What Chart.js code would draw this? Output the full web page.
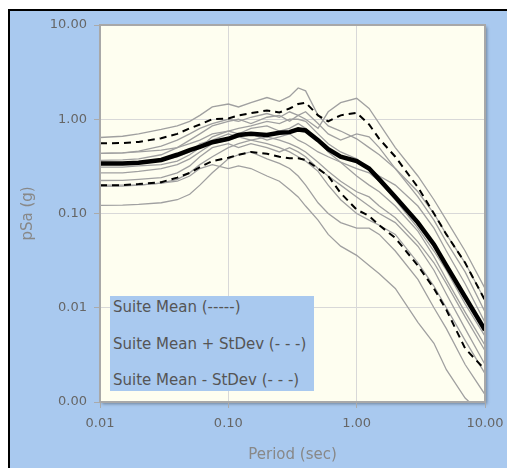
<!DOCTYPE html>
<html lang="en">
<head>
  <meta charset="UTF-8">
  <title>Suite Spectra</title>
  <script src="https://cdn.jsdelivr.net/npm/chart.js"></script>
  <style>
    body {
      margin: 0;
      background: #fff;
      font-family: "DejaVu Sans", Verdana, sans-serif;
    }
    .frame {
      position: absolute;
      left: 8px;
      top: 9px;
      width: 497px;
      height: 457px;
      border-left: 2px solid #000;
      border-top: 2px solid #000;
      background: #a9c9ef;
    }
    .chart-box {
      position: absolute;
      left: 0;
      top: 0;
      width: 497px;
      height: 457px;
    }
    .legend {
      position: absolute;
      left: 100px;   /* page x 110 */
      top: 285px;    /* page y 296 */
      width: 204px;
      height: 95px;
      background: #a9c9ef;
      color: #555;
      font-size: 15px;
    }
    .legend div {
      position: absolute;
      left: 3px;
      line-height: 18px;
      white-space: nowrap;
    }
  </style>
</head>
<body>
  <div class="frame">
    <div class="chart-box"><canvas id="spectraChart"></canvas></div>
    <div class="legend">
      <div style="top:2px">Suite Mean (-----)</div>
      <div style="top:39px">Suite Mean + StDev (- - -)</div>
      <div style="top:75px">Suite Mean - StDev (- - -)</div>
    </div>
  </div>

  <script>
    // periods (sec) shared by every curve
    const periods = [0.01, 0.015, 0.02, 0.03, 0.04, 0.05, 0.06, 0.075, 0.1, 0.12, 0.15, 0.2, 0.25, 0.3,
                     0.35, 0.4, 0.5, 0.6, 0.75, 1.0, 1.25, 1.5, 2, 3, 4, 5, 7, 10];

    const xTicks = [0.01, 0.1, 1, 10];
    const yTicks = [0.001, 0.01, 0.1, 1, 10];

    // suite statistics (g)
    const suiteMean = [0.34, 0.34, 0.345, 0.37, 0.42, 0.47, 0.51, 0.57, 0.62, 0.68, 0.70, 0.68, 0.72, 0.73,
                       0.78, 0.76, 0.60, 0.48, 0.40, 0.36, 0.30, 0.23, 0.15, 0.08, 0.047, 0.028, 0.013, 0.0058];
    const meanPlusSd = [0.555, 0.56, 0.575, 0.63, 0.70, 0.80, 0.88, 1.0, 1.02, 1.10, 1.16, 1.24, 1.18, 1.30,
                        1.45, 1.50, 1.10, 0.95, 1.10, 1.17, 0.88, 0.62, 0.40, 0.19, 0.10, 0.06, 0.03, 0.012];
    const meanMinusSd = [0.20, 0.20, 0.205, 0.215, 0.24, 0.27, 0.31, 0.36, 0.39, 0.42, 0.45, 0.43, 0.40, 0.385,
                         0.385, 0.37, 0.30, 0.25, 0.165, 0.11, 0.094, 0.075, 0.055, 0.028, 0.016, 0.0095, 0.0037, 0.0022];

    // individual records (g)
    const rec01 = [0.64, 0.66, 0.70, 0.78, 0.85, 0.95, 1.10, 1.35, 1.45, 1.35, 1.50, 1.70, 1.55, 1.75,
                   2.15, 2.00, 1.10, 0.85, 0.75, 0.62, 0.50, 0.42, 0.30, 0.15, 0.085, 0.05, 0.024, 0.009];
    const rec02 = [0.435, 0.44, 0.46, 0.52, 0.60, 0.70, 0.80, 0.90, 1.00, 0.95, 1.05, 1.15, 1.05, 1.20,
                   1.10, 1.00, 0.80, 1.20, 1.50, 1.67, 1.30, 0.90, 0.50, 0.25, 0.14, 0.085, 0.04, 0.016];
    const rec03 = [0.366, 0.37, 0.38, 0.42, 0.50, 0.60, 0.70, 0.85, 0.95, 1.00, 0.90, 1.05, 1.10, 0.95,
                   1.10, 1.20, 0.90, 0.70, 0.60, 0.70, 0.65, 0.50, 0.30, 0.17, 0.10, 0.06, 0.03, 0.012];
    const rec04 = [0.31, 0.31, 0.32, 0.33, 0.36, 0.42, 0.50, 0.65, 0.75, 0.70, 0.80, 0.85, 0.75, 0.80,
                   0.90, 0.80, 0.60, 0.45, 0.35, 0.30, 0.27, 0.22, 0.14, 0.07, 0.04, 0.025, 0.011, 0.005];
    const rec05 = [0.27, 0.27, 0.28, 0.30, 0.33, 0.38, 0.45, 0.55, 0.60, 0.65, 0.70, 0.60, 0.65, 0.70,
                   0.60, 0.55, 0.45, 0.40, 0.35, 0.25, 0.20, 0.17, 0.12, 0.065, 0.035, 0.02, 0.009, 0.004];
    const rec06 = [0.224, 0.225, 0.23, 0.24, 0.27, 0.32, 0.40, 0.50, 0.55, 0.50, 0.55, 0.50, 0.45, 0.50,
                   0.45, 0.40, 0.30, 0.25, 0.20, 0.15, 0.12, 0.10, 0.08, 0.045, 0.025, 0.014, 0.006, 0.0025];
    const rec07 = [0.194, 0.195, 0.20, 0.21, 0.22, 0.25, 0.30, 0.33, 0.30, 0.32, 0.30, 0.25, 0.22, 0.18,
                   0.15, 0.12, 0.085, 0.06, 0.045, 0.036, 0.028, 0.023, 0.016, 0.007, 0.0042, 0.0022, 0.0011, 0.0007];
    const rec08 = [0.122, 0.123, 0.125, 0.13, 0.14, 0.16, 0.20, 0.27, 0.38, 0.42, 0.45, 0.38, 0.34, 0.30,
                   0.25, 0.20, 0.13, 0.10, 0.08, 0.07, 0.07, 0.06, 0.04, 0.02, 0.01, 0.006, 0.0025, 0.0012];
    const rec09 = [0.435, 0.44, 0.45, 0.47, 0.50, 0.55, 0.60, 0.70, 0.75, 0.80, 0.85, 0.95, 0.90, 1.00,
                   1.00, 0.95, 0.70, 0.55, 0.45, 0.38, 0.30, 0.25, 0.20, 0.12, 0.07, 0.04, 0.018, 0.007];
    const rec10 = [0.34, 0.34, 0.35, 0.37, 0.40, 0.45, 0.55, 0.60, 0.70, 0.65, 0.60, 0.65, 0.60, 0.55,
                   0.50, 0.45, 0.35, 0.28, 0.22, 0.17, 0.15, 0.12, 0.09, 0.05, 0.03, 0.018, 0.008, 0.0035];
    const rec11 = [0.20, 0.20, 0.20, 0.21, 0.23, 0.27, 0.33, 0.40, 0.50, 0.55, 0.60, 0.55, 0.50, 0.45,
                   0.40, 0.36, 0.28, 0.20, 0.14, 0.10, 0.085, 0.075, 0.06, 0.03, 0.017, 0.01, 0.0045, 0.002];
    const records = [rec01, rec02, rec03, rec04, rec05, rec06, rec07, rec08, rec09, rec10, rec11];

    const FONT = '"DejaVu Sans", Verdana, sans-serif';

    function toPoints(values) {
      return values.map((v, i) => ({ x: periods[i], y: v }));
    }

    // dataset 0 is drawn on top
    const datasets = [
      { label: 'Suite Mean', data: toPoints(suiteMean), borderColor: '#000', borderWidth: 4.5 },
      { label: 'Suite Mean + StDev', data: toPoints(meanPlusSd), borderColor: '#000', borderWidth: 2, borderDash: [7, 5] },
      { label: 'Suite Mean - StDev', data: toPoints(meanMinusSd), borderColor: '#000', borderWidth: 2, borderDash: [7, 5] }
    ];
    records.forEach((r, i) => {
      datasets.push({ label: 'Record ' + (i + 1), data: toPoints(r), borderColor: '#a0a0a0', borderWidth: 1.3 });
    });

    // cream plot area with drop shadow, grey frame on top
    const plotFrame = {
      id: 'plotFrame',
      beforeDraw(chart) {
        const { ctx, chartArea: a } = chart;
        ctx.save();
        ctx.shadowColor = 'rgba(0,0,0,0.35)';
        ctx.shadowOffsetX = 2;
        ctx.shadowOffsetY = 2;
        ctx.shadowBlur = 3;
        ctx.fillStyle = '#fefef0';
        ctx.fillRect(a.left, a.top, a.right - a.left, a.bottom - a.top);
        ctx.restore();
      },
      afterDatasetsDraw(chart) {
        const { ctx, chartArea: a } = chart;
        ctx.save();
        ctx.strokeStyle = '#a8a8a8';
        ctx.lineWidth = 2;
        ctx.strokeRect(a.left, a.top, a.right - a.left, a.bottom - a.top);
        ctx.restore();
      }
    };

    new Chart(document.getElementById('spectraChart'), {
      type: 'line',
      data: { datasets },
      plugins: [plotFrame],
      options: {
        responsive: true,
        maintainAspectRatio: false,
        animation: false,
        layout: { padding: { top: 14, right: 22, left: 0, bottom: 0 } },
        elements: { point: { radius: 0 }, line: { tension: 0 } },
        plugins: { legend: { display: false }, tooltip: { enabled: false } },
        scales: {
          x: {
            type: 'logarithmic',
            min: 0.01,
            max: 10,
            afterBuildTicks: s => { s.ticks = xTicks.map(v => ({ value: v })); },
            afterFit: s => { s.height = 66; s.paddingLeft = 0; s.paddingRight = 0; },
            grid: { color: '#d8d8d8', tickColor: '#aaa', tickLength: 6, lineWidth: 1 },
            border: { display: false },
            ticks: {
              autoSkip: false,
              maxRotation: 0,
              padding: 8,
              color: '#666',
              font: { family: FONT, size: 13 },
              callback: v => Number(v).toFixed(2)
            },
            title: {
              display: true,
              text: 'Period (sec)',
              color: '#888',
              font: { family: FONT, size: 15 },
              padding: { top: 0, bottom: 4 }
            }
          },
          y: {
            type: 'logarithmic',
            min: 0.001,
            max: 10,
            afterBuildTicks: s => { s.ticks = yTicks.map(v => ({ value: v })); },
            afterFit: s => { s.width = 90; s.paddingTop = 0; s.paddingBottom = 0; },
            grid: { color: '#d8d8d8', tickColor: '#aaa', tickLength: 6, lineWidth: 1 },
            border: { display: false },
            ticks: {
              autoSkip: false,
              padding: 7,
              color: '#666',
              font: { family: FONT, size: 13 },
              callback: v => Number(v).toFixed(2)
            },
            title: {
              display: true,
              text: 'pSa (g)',
              color: '#888',
              font: { family: FONT, size: 15 },
              padding: { top: 9, bottom: 0 }
            }
          }
        }
      }
    });
  </script>
</body>
</html>
